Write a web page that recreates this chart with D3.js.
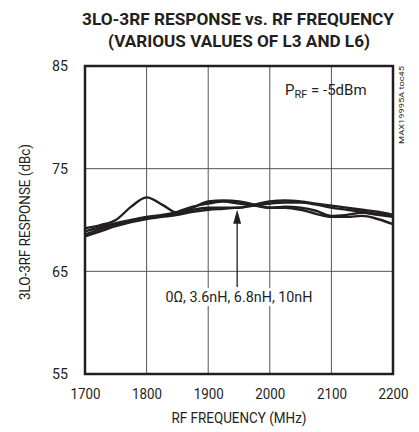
<!DOCTYPE html>
<html><head><meta charset="utf-8">
<script src="https://cdn.jsdelivr.net/npm/d3@7"></script>
<style>body{margin:0;background:#fff}svg{display:block}text{font-family:Roboto,"Liberation Sans",sans-serif;fill:#231f20}</style>
</head><body><svg id="c" width="419" height="432"></svg>
<script>
const freqs = [1700,1725,1750,1775,1800,1825,1850,1875,1900,1925,1950,1975,2000,2025,2050,2075,2100,2125,2150,2175,2200];
const series0 = [69.2,69.5,70.0,71.3,72.2,71.5,70.7,71.2,71.8,71.9,71.8,71.5,71.2,71.3,71.2,70.9,70.4,70.5,70.7,70.5,70.3];
const series36 = [68.6,69.1,69.6,69.9,70.2,70.4,70.6,71.0,71.2,71.2,71.2,71.5,71.8,71.9,71.8,71.6,71.4,71.2,71.0,70.8,70.5];
const series68 = [68.9,69.3,69.7,70.0,70.3,70.5,70.8,71.3,71.6,71.8,71.6,71.4,71.2,71.2,71.0,70.6,70.3,70.3,70.4,70.1,69.6];
const series10 = [68.4,68.9,69.4,69.8,70.1,70.3,70.5,70.8,71.0,71.1,71.2,71.4,71.6,71.7,71.7,71.5,71.2,71.0,70.8,70.6,70.4];
const xTicks = [1700,1800,1900,2000,2100,2200];
const yTicks = [55,65,75,85];

const svg = d3.select("#c");
const L=85, R=393, T=66, B=374;
const x = d3.scaleLinear().domain([1700,2200]).range([L,R]);
const y = d3.scaleLinear().domain([55,85]).range([B,T]);

// title
svg.append("text").attr("x",238).attr("y",25).attr("text-anchor","middle")
  .attr("font-weight","bold").attr("font-size",17).attr("textLength",312).attr("lengthAdjust","spacingAndGlyphs")
  .text("3LO-3RF RESPONSE vs. RF FREQUENCY");
svg.append("text").attr("x",239).attr("y",47).attr("text-anchor","middle")
  .attr("font-weight","bold").attr("font-size",17).attr("textLength",262).attr("lengthAdjust","spacingAndGlyphs")
  .text("(VARIOUS VALUES OF L3 AND L6)");

// grid
const g = svg.append("g");
xTicks.slice(1,-1).forEach(v=>g.append("line").attr("x1",x(v)).attr("x2",x(v)).attr("y1",T).attr("y2",B).attr("stroke","#555").attr("stroke-width",1));
yTicks.slice(1,-1).forEach(v=>g.append("line").attr("x1",L).attr("x2",R).attr("y1",y(v)).attr("y2",y(v)).attr("stroke","#555").attr("stroke-width",1));

// axes labels via d3 axes
const xa = d3.axisBottom(x).tickValues(xTicks).tickSize(0).tickPadding(14).tickFormat(d3.format("d"));
svg.append("g").attr("transform",`translate(0,${B})`).call(xa).call(s=>{s.select(".domain").remove();s.selectAll("text").attr("font-size",15).attr("fill","#231f20").attr("textLength",30).attr("lengthAdjust","spacingAndGlyphs").style("font-family","Roboto,sans-serif");});
const ya = d3.axisLeft(y).tickValues(yTicks).tickSize(0).tickPadding(17);
svg.append("g").attr("transform",`translate(${L},0)`).call(ya).call(s=>{s.select(".domain").remove();s.selectAll("text").attr("font-size",15).attr("fill","#231f20").attr("textLength",16).attr("lengthAdjust","spacingAndGlyphs").style("font-family","Roboto,sans-serif");});

svg.append("text").attr("x",239).attr("y",423).attr("text-anchor","middle").attr("font-size",15).attr("textLength",135).attr("lengthAdjust","spacingAndGlyphs").text("RF FREQUENCY (MHz)");
svg.append("text").attr("transform","translate(30,222) rotate(-90)").attr("text-anchor","middle").attr("font-size",15).attr("textLength",156).attr("lengthAdjust","spacingAndGlyphs").text("3LO-3RF RESPONSE (dBc)");

// curves
const line = d3.line().x((d,i)=>x(freqs[i])).y(d=>y(d)).curve(d3.curveMonotoneX);
[series0,series36,series68,series10].forEach(s=>{
  svg.append("path").attr("d",line(s)).attr("fill","none").attr("stroke","#231f20").attr("stroke-width",2.4);
});

// label with white bg
const bgRect = svg.append("rect").attr("fill","#fff");
const lab = svg.append("text").attr("x",239).attr("y",302).attr("text-anchor","middle").attr("font-size",15).attr("textLength",147).attr("lengthAdjust","spacingAndGlyphs").text("0Ω, 3.6nH, 6.8nH, 10nH");
const bb = lab.node().getBBox();
bgRect.attr("x",bb.x-2).attr("y",bb.y).attr("width",bb.width+4).attr("height",bb.height);
// arrow
svg.append("line").attr("x1",x(1947)).attr("x2",x(1947)).attr("y1",y(71.0)+8).attr("y2",bb.y-1).attr("stroke","#231f20").attr("stroke-width",1.3);
svg.append("path").attr("d",`M${x(1947)},${y(71.0)} l-4,14 l8,0 z`).attr("fill","#231f20");

// frame
svg.append("rect").attr("x",L).attr("y",T).attr("width",R-L).attr("height",B-T).attr("fill","none").attr("stroke","#231f20").attr("stroke-width",2.5);

// annotation
const p = svg.append("text").attr("x",285).attr("y",95).attr("font-size",15);
p.append("tspan").text("P");
p.append("tspan").attr("font-size",11).attr("dy",3).text("RF");
p.append("tspan").attr("dy",-3).text(" = -5dBm");
svg.append("text").attr("transform","translate(404,105) rotate(-90)").attr("text-anchor","middle").attr("font-size",8).attr("textLength",78).attr("lengthAdjust","spacingAndGlyphs").text("MAX19995A toc45");
</script></body></html>
